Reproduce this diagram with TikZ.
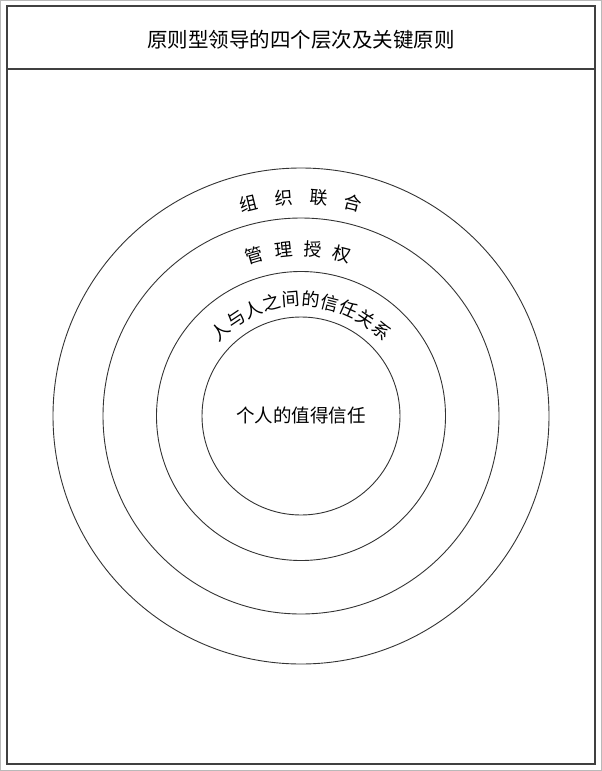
\documentclass[tikz,border=0pt]{standalone}
\usepackage{fontspec}
\setmainfont{Noto Sans CJK SC}
\usetikzlibrary{calc}
\tikzset{
  ring/.style={draw=black!80, line width=0.9pt},
  frameline/.style={draw=black!75, line width=1.5pt},
  arcchar/.style={inner sep=0pt, font=\fontsize{18}{18}\selectfont},
  titletext/.style={font=\fontsize{20.5}{24}\selectfont, inner sep=0pt},
  coretext/.style={font=\fontsize{18.5}{22}\selectfont, inner sep=0pt}
}
\begin{document}
\begin{tikzpicture}[x=1pt,y=1pt]
\useasboundingbox (0,0) rectangle (602,-771);
\draw[gray!55, line width=1pt] (0.5,-0.5) rectangle (601.5,-770.5);
\draw[frameline] (7,-6) rectangle (595,-764);
\draw[frameline, line width=1.2pt] (7,-69) -- (595,-69);
\node[titletext] (title) at (301,-40) {原则型领导的四个层次及关键原则};
\coordinate (c) at (301,-416);
\draw[ring] (c) circle[radius=248];
\draw[ring] (c) circle[radius=198];
\draw[ring] (c) circle[radius=144.5];
\draw[ring] (c) circle[radius=99];
\node[coretext] (core) at (301,-415) {个人的值得信任};
\foreach \ch [count=\i] in {组,织,联,合} {
  \pgfmathsetmacro\a{103.8-(\i-1)*9.2}
  \node[arcchar, rotate=\a-90] (outer\i) at ($(c)+(\a:219)$) {\ch};
}
\foreach \ch [count=\i] in {管,理,授,权} {
  \pgfmathsetmacro\a{106.3-(\i-1)*10.2}
  \node[arcchar, rotate=\a-90] (mid\i) at ($(c)+(\a:167)$) {\ch};
}
\foreach \ch [count=\i] in {人,与,人,之,间,的,信,任,关,系} {
  \pgfmathsetmacro\a{133.5-(\i-1)*9.67}
  \node[arcchar, rotate=\a-90] (inner\i) at ($(c)+(\a:117)$) {\ch};
}
\end{tikzpicture}
\end{document}
